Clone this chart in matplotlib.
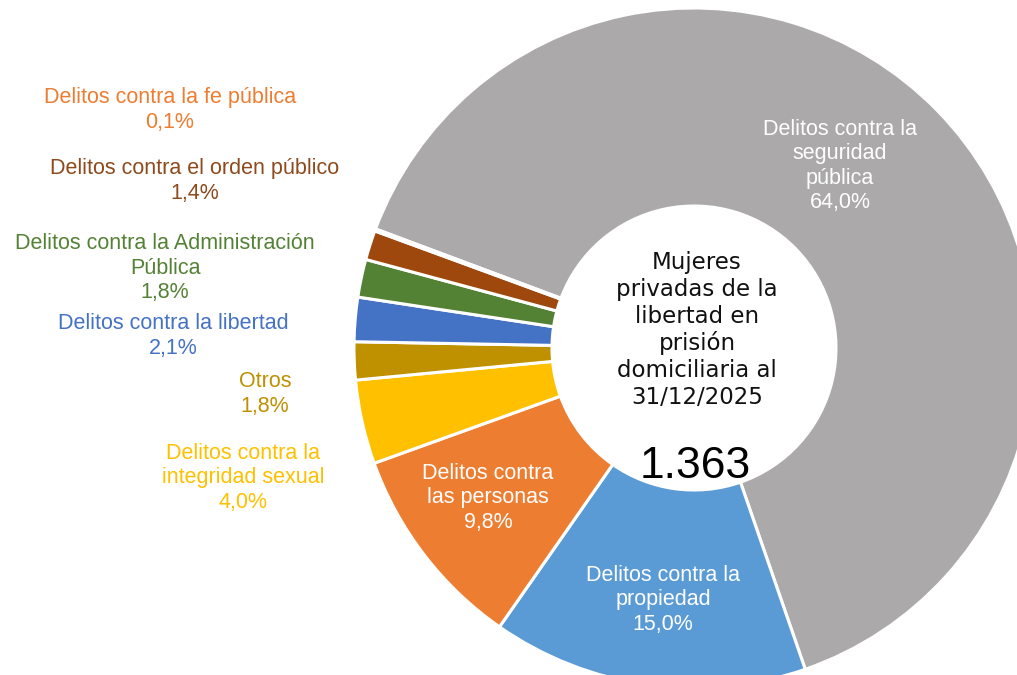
import matplotlib
matplotlib.use("Agg")
import matplotlib.pyplot as plt

# ---- data ----
categories = [
    "Delitos contra la\nseguridad\npública",
    "Delitos contra la\npropiedad",
    "Delitos contra\nlas personas",
    "Delitos contra la\nintegridad sexual",
    "Otros",
    "Delitos contra la libertad",
    "Delitos contra la Administración\nPública",
    "Delitos contra el orden público",
    "Delitos contra la fe pública",
]
values = [64.0, 15.0, 9.8, 4.0, 1.8, 2.1, 1.8, 1.4, 0.1]
slice_colors = ["#ABA9A9", "#5B9BD5", "#ED7D31", "#FFC000", "#BF9000",
                "#4472C4", "#548235", "#9E480E", "#C8601E"]
label_colors = ["white", "white", "white", "#FFC000", "#BF9000",
                "#4472C4", "#548235", "#8E4A1C", "#ED7D31"]
center_title = "Mujeres\nprivadas de la\nlibertad en\nprisión\ndomiciliaria al\n31/12/2025"
total_text = "1.363"

# label anchor positions in pixels (x, y from top)
label_pos = [(840, 166), (663, 600), (488, 498), (243, 478), (265, 394),
             (173, 336), (165, 268), (195, 181), (170, 110)]

W, H = 1017, 675
plt.rcParams['font.family'] = ['Liberation Sans', 'DejaVu Sans']
fig = plt.figure(figsize=(W / 100, H / 100), dpi=100)
ax = fig.add_axes([0, 0, 1, 1])
ax.set_xlim(0, W)
ax.set_ylim(0, H)
ax.set_aspect('equal')
ax.axis('off')

cx, cy = 694, H - 348
R = 340
start = 159.5
ax.pie(values, colors=slice_colors, startangle=start, counterclock=False,
       center=(cx, cy), radius=R, frame=True,
       wedgeprops=dict(width=R - 142, edgecolor='white', linewidth=2.2))
ax.set_xlim(0, W)
ax.set_ylim(0, H)
ax.axis('off')

for cat, v, col, (px, py) in zip(categories, values, label_colors, label_pos):
    txt = f"{cat}\n{v:.1f}%".replace('.', ',')
    ax.text(px, H - py, txt, ha='center', va='center', color=col,
            fontsize=15.5, linespacing=1.22)

ax.text(697, H - 330, center_title, ha='center', va='center', color='#111111',
        fontsize=16.5, linespacing=1.2, family=['DejaVu Sans'])
ax.text(695, H - 466, total_text, ha='center', va='center', color='black',
        fontsize=32)

fig.savefig("out.png", dpi=100)
